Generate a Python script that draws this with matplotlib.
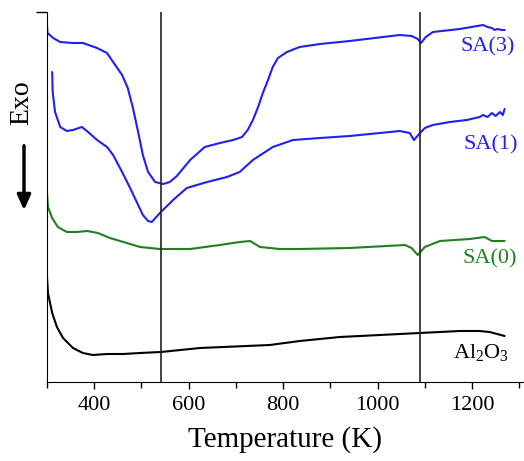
import numpy as np
import matplotlib
matplotlib.use("Agg")
import matplotlib.pyplot as plt

plt.rcParams['font.family'] = ['Liberation Serif', 'DejaVu Serif']
plt.rcParams['mathtext.fontset'] = 'custom'
plt.rcParams['mathtext.rm'] = 'Liberation Serif'
plt.rcParams['mathtext.it'] = 'Liberation Serif:italic'

# DTA traces, heat flow in arbitrary units
t_sa3 = [300, 301, 313, 328, 355, 376, 406, 427, 440, 459, 471, 482, 493, 503, 514,
         529, 546, 560, 575, 603, 634, 666, 694, 713, 725, 736, 747, 757, 768, 778,
         789, 808, 835, 878, 941, 1047, 1072, 1085, 1092, 1102, 1117, 1174, 1223,
         1233, 1242, 1248, 1254, 1263, 1269]
v_sa3 = [357, 349, 344, 340, 339, 339, 334, 329, 320, 307, 294, 274, 250, 227, 210,
         200, 198, 200, 206, 222, 235, 239, 242, 245, 252, 262, 275, 289, 302, 315,
         324, 330, 335, 338, 341, 347, 346, 343, 339, 345, 350, 353, 357,
         355, 354, 352, 353, 352, 352]

t_sa1 = [311, 312, 317, 328, 342, 355, 374, 387, 406, 427, 440, 459, 476, 493, 503,
         514, 522, 539, 567, 596, 639, 681, 708, 736, 778, 821, 878, 941, 1047, 1068,
         1077, 1090, 1100, 1117, 1153, 1189, 1216, 1223, 1233, 1242, 1250, 1259,
         1265, 1269]
v_sa1 = [310, 290, 270, 255, 251, 252, 255, 250, 242, 235, 227, 210, 194, 177, 167,
         161, 160, 169, 182, 194, 200, 205, 210, 222, 235, 242, 244, 246, 251, 249,
         242, 249, 254, 257, 260, 262, 265, 267, 265, 269, 266, 270,
         267, 273]

t_sa0 = [300, 302, 311, 323, 342, 363, 385, 408, 433, 469, 497, 539, 603, 666, 708,
         730, 751, 793, 835, 941, 1058, 1072, 1085, 1100, 1132, 1195, 1227, 1242, 1269]
v_sa0 = [189, 175, 164, 155, 150, 150, 151, 149, 144, 139, 135, 133, 133, 137, 140,
         141, 135, 133, 133, 134, 137, 134, 127, 135, 141, 143, 145, 141, 141]

t_al = [300, 302, 311, 321, 334, 355, 376, 397, 427, 461, 497, 541, 624, 772, 835,
        920, 1005, 1089, 1174, 1216, 1237, 1269]
v_al = [105, 89, 69, 55, 44, 34, 29, 27, 28, 28, 29, 30, 34, 37, 41,
        45, 47, 49, 51, 51, 50, 46]

vlines = [541, 1089]

blue = '#2020f0'
green = '#20801f'

fig = plt.figure(figsize=(5.24, 4.61), dpi=100)
ax = fig.add_axes([47 / 524, 1 - 382 / 461, 1 - 47 / 524, 370 / 461])

kw = dict(lw=1.5, solid_joinstyle='round', solid_capstyle='round')
ax.plot(t_sa3, v_sa3, color=blue, **kw)
ax.plot(t_sa1, v_sa1, color=blue, **kw)
ax.plot(t_sa0, v_sa0, color=green, **kw)
ax.plot(t_al, v_al, color='black', **kw)
for x in vlines:
    ax.axvline(x, color='#222222', lw=1.2)

ax.text(1233, 335, 'SA(3)', color=blue, fontsize=16, ha='center', va='center')
ax.text(1240, 237, 'SA(1)', color=blue, fontsize=16, ha='center', va='center')
ax.text(1238, 123, 'SA(0)', color=green, fontsize=16, ha='center', va='center')
ax.text(1218, 30, 'Al$_2$O$_3$', color='black', fontsize=16, ha='center', va='center')

ax.set_xlim(300, 1310)
ax.set_ylim(0, 370)
ax.set_xticks([400, 600, 800, 1000, 1200])
ax.set_xticks(np.arange(300, 1301, 100), minor=True)
ax.set_yticks([370])
ax.set_yticklabels([''])
ax.tick_params(axis='x', which='major', length=5, width=1, labelsize=16, pad=5)
ax.tick_params(axis='x', which='minor', length=4, width=1)
ax.tick_params(axis='y', length=8, width=1)
for s in ['top', 'right']:
    ax.spines[s].set_visible(False)
ax.set_xlabel('Temperature (K)', fontsize=21, labelpad=8)

fig.text(22 / 524, 1 - 103 / 461, 'Exo', rotation=90, fontsize=20,
         ha='center', va='center')
fig.patches.append(matplotlib.patches.FancyArrowPatch(
    (24 / 524, 1 - 143 / 461), (24 / 524, 1 - 213 / 461),
    transform=fig.transFigure, arrowstyle='-|>,head_width=4,head_length=9',
    lw=2.5, color='black', mutation_scale=1))

fig.savefig('out.png', dpi=100)
